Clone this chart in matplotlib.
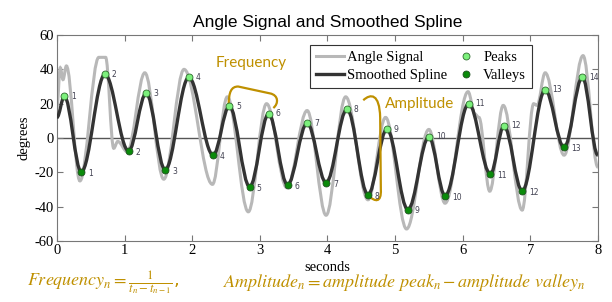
import numpy as np
import matplotlib
matplotlib.use("Agg")
import matplotlib.pyplot as plt
from matplotlib.path import Path
from matplotlib.patches import PathPatch
from matplotlib.lines import Line2D
from matplotlib.legend_handler import HandlerLine2D

# knots (time in s, angle in degrees)
raw_t = [0.0, 0.05, 0.09, 0.14, 0.34, 0.62, 0.72, 0.84, 0.90, 1.04, 1.30, 1.58,
         1.88, 2.30, 2.52, 2.83, 3.10, 3.40, 3.70, 3.98, 4.27, 4.60, 4.86, 5.17,
         5.50, 5.74, 6.08, 6.18, 6.24, 6.40, 6.60, 6.88, 7.05, 7.10, 7.22, 7.50,
         7.78, 8.0]
raw_y = [18, 41, 34, 42, -25, 47, 47, -6, -2, -8, 38, -24,
         40, -27, 24, -43, 20, -29, 16, -45, 24, -36, 12, -53,
         5, -38, 27, 14, 12, -31, 19, -42, 20, 19, 38, -10,
         48, -17]

peak_t = [0.11, 0.71, 1.32, 1.95, 2.55, 3.13, 3.70, 4.29, 4.88, 5.50, 6.09, 6.61, 7.22, 7.77]
peak_y = [24.3, 37.1, 26.1, 35.3, 18.6, 14.0, 8.7, 16.8, 5.2, 0.6, 20.0, 7.0, 28.0, 35.5]
valley_t = [0.36, 1.06, 1.60, 2.31, 2.85, 3.41, 3.98, 4.60, 5.19, 5.74, 6.41, 6.88, 7.50]
valley_y = [-19.7, -7.5, -18.5, -9.9, -28.4, -27.2, -26.0, -33.0, -41.7, -33.6, -21.0, -30.8, -5.5]
start_pt = (0.0, 12.0)
end_pt = (8.0, -10.0)

gold = "#BF9000"
serif = "Liberation Serif"
plt.rcParams["axes.unicode_minus"] = False
plt.rcParams["mathtext.fontset"] = "stix"


def smooth_path(ts, ys, k=0.36):
    # cubic bezier segments with flat tangents at every knot
    verts = [(ts[0], ys[0])]
    codes = [Path.MOVETO]
    for i in range(len(ts) - 1):
        dt = ts[i + 1] - ts[i]
        verts += [(ts[i] + k * dt, ys[i]), (ts[i + 1] - k * dt, ys[i + 1]), (ts[i + 1], ys[i + 1])]
        codes += [Path.CURVE4] * 3
    return Path(verts, codes)


class MarkerRight(HandlerLine2D):
    # put the legend marker near the label instead of mid-handle
    def get_xdata(self, legend, xdescent, ydescent, width, height, fontsize):
        xdata, _ = super().get_xdata(legend, xdescent, ydescent, width, height, fontsize)
        return xdata, np.array([-xdescent + 0.8 * width])


fig = plt.figure(figsize=(6.12, 3.02), dpi=100)
ax = fig.add_axes([0.093, 0.202, 0.884, 0.682])

ax.axhline(0, color="#555555", lw=1, zorder=1)
ax.add_patch(PathPatch(smooth_path(raw_t, raw_y), fill=False, ec="#b8b8b8", lw=2.2, zorder=2))

# spline passes through all extrema in time order
sp = sorted([start_pt, end_pt] + list(zip(peak_t, peak_y)) + list(zip(valley_t, valley_y)))
ax.add_patch(PathPatch(smooth_path([p[0] for p in sp], [p[1] for p in sp]),
                       fill=False, ec="#333333", lw=2.4, zorder=3))

ax.plot(peak_t, peak_y, "o", ms=5, mfc="#7CF07C", mec="#2d6b2d", mew=0.6, zorder=5)
ax.plot(valley_t, valley_y, "o", ms=5, mfc="#0a8a0a", mec="#1f4f1f", mew=0.6, zorder=5)
for i, (t, y) in enumerate(zip(peak_t, peak_y)):
    ax.annotate(str(i + 1), (t, y), xytext=(5, 0), textcoords="offset points",
                fontsize=5.5, color="#404050", va="center", zorder=6)
for i, (t, y) in enumerate(zip(valley_t, valley_y)):
    ax.annotate(str(i + 1), (t, y), xytext=(5, -1), textcoords="offset points",
                fontsize=5.5, color="#404050", va="center", zorder=6)

# gold brackets
freq = Path([(2.54, 19), (2.54, 27), (2.58, 30), (2.68, 30), (3.15, 26),
             (3.28, 25), (3.28, 20), (3.20, 17.5)],
            [Path.MOVETO, Path.CURVE4, Path.CURVE4, Path.CURVE4, Path.LINETO,
             Path.CURVE4, Path.CURVE4, Path.CURVE4])
ax.add_patch(PathPatch(freq, fill=False, ec=gold, lw=1.6, zorder=4))
amp = Path([(4.53, 22), (4.64, 26), (4.77, 26), (4.78, 12), (4.79, -30),
            (4.80, -38), (4.70, -37), (4.62, -34)],
           [Path.MOVETO, Path.CURVE4, Path.CURVE4, Path.CURVE4, Path.LINETO,
            Path.CURVE4, Path.CURVE4, Path.CURVE4])
ax.add_patch(PathPatch(amp, fill=False, ec=gold, lw=1.6, zorder=4))
ax.text(2.87, 43.5, "Frequency", color=gold, fontsize=11, family="Lato", ha="center", va="center")
ax.text(5.37, 19.7, "Amplitude", color=gold, fontsize=11, family="Lato", ha="center", va="center")

ax.set_xlim(0, 8)
ax.set_ylim(-60, 60)
ax.set_xticks(range(0, 9))
ax.set_yticks(range(-60, 61, 20))
ax.tick_params(direction="in", top=True, right=True, length=4, color="#777777",
               labelsize=10.5, pad=2)
for lab in ax.get_xticklabels() + ax.get_yticklabels():
    lab.set_family(serif)
for s in ax.spines.values():
    s.set_color("#777777")
ax.set_xlabel("seconds", family=serif, fontsize=10.5, labelpad=3)
ax.set_ylabel("degrees", family=serif, fontsize=10.5, labelpad=3)
ax.set_title("Angle Signal and Smoothed Spline", family="Liberation Sans", fontsize=12.5, pad=6)

handles = [Line2D([], [], color="#b8b8b8", lw=2.2),
           Line2D([], [], color="#333333", lw=2.4),
           Line2D([], [], ls="", marker="o", ms=5, mfc="#7CF07C", mec="#2d6b2d", mew=0.6),
           Line2D([], [], ls="", marker="o", ms=5, mfc="#0a8a0a", mec="#1f4f1f", mew=0.6)]
leg = ax.legend(handles, ["Angle Signal", "Smoothed Spline", "Peaks", "Valleys"], ncol=2,
                loc="upper left", bbox_to_anchor=(0.468, 0.951), borderaxespad=0,
                fancybox=False, edgecolor="#333333", framealpha=1,
                prop={"family": serif, "size": 10.5},
                handlelength=1.9, handletextpad=0.2, columnspacing=0.4,
                borderpad=0.4, labelspacing=0.35,
                handler_map={handles[2]: MarkerRight(), handles[3]: MarkerRight()})
leg.get_frame().set_linewidth(0.8)
leg.set_zorder(7)

fig.text(0.044, 0.063, r"$Frequency_n = \frac{1}{t_n - t_{n-1}}$,", color=gold, fontsize=13, va="center")
fig.text(0.364, 0.063, r"$Amplitude_n = amplitude\ peak_n - amplitude\ valley_n$", color=gold,
         fontsize=13, va="center")

fig.savefig("out.png", dpi=100)
